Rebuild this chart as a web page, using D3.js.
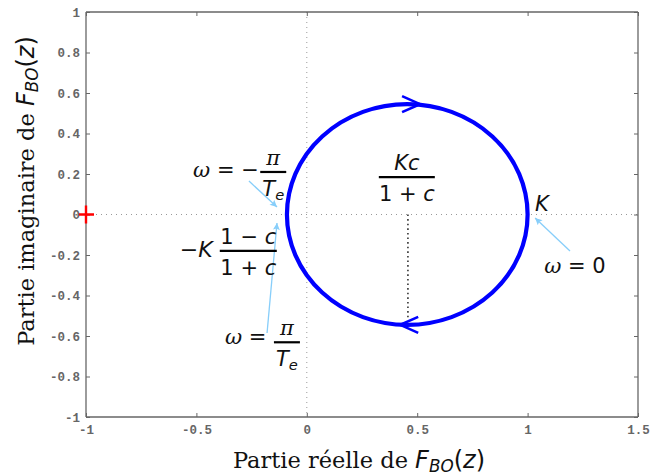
<!DOCTYPE html>
<html><head><meta charset="utf-8">
<script src="https://cdn.jsdelivr.net/npm/d3@7"></script>
<style>body{margin:0;background:#fff}</style>
</head><body>
<svg id="c" width="651" height="475"></svg>
<script>
// ---- data ----
const xDomain = [-1, 1.5];
const yDomain = [-1, 1];
const xTicks = [-1, -0.5, 0, 0.5, 1, 1.5];
const xTickLabels = ["-1", "-0.5", "0", "0.5", "1", "1.5"];
const yTicks = [-1, -0.8, -0.6, -0.4, -0.2, 0, 0.2, 0.4, 0.6, 0.8, 1];
const yTickLabels = ["-1", "-0.8", "-0.6", "-0.4", "-0.2", "0", "0.2", "0.4", "0.6", "0.8", "1"];
const circleCenter = [0.455, 0];
const circleRadius = 0.545;
const directionArrows = [{x: 0.513, y: 0.545, dir: 1}, {x: 0.423, y: -0.545, dir: -1}];
const centerDrop = [[0.458, 0], [0.458, -0.52]];
const criticalPoint = [-1, 0];
const annotationArrows = [
  {from: [-0.262, 0.165], to: [-0.135, 0.037]},
  {from: [-0.180, -0.585], to: [-0.135, -0.042]},
  {from: [1.192, -0.180], to: [1.034, -0.017]}
];

// ---- layout ----
const svg = d3.select("#c");
const L = 86, R = 638, T = 12, B = 417;
const x = d3.scaleLinear().domain(xDomain).range([L, R]);
const y = d3.scaleLinear().domain(yDomain).range([B, T]);

const defs = svg.append("defs");
defs.append("marker").attr("id", "ah").attr("viewBox", "0 0 10 10")
  .attr("refX", 10).attr("refY", 5).attr("markerWidth", 11).attr("markerHeight", 7)
  .attr("markerUnits", "userSpaceOnUse").attr("orient", "auto")
  .append("path").attr("d", "M0,0 L10,5 L0,10 L2,5 Z").attr("fill", "#87cefa");

// grid lines at 0
svg.append("line").attr("x1", x(0)).attr("x2", x(0)).attr("y1", T).attr("y2", B)
  .attr("stroke", "#999").attr("stroke-width", 1).attr("stroke-dasharray", "1,4");
svg.append("line").attr("x1", L).attr("x2", R).attr("y1", y(0)).attr("y2", y(0))
  .attr("stroke", "#999").attr("stroke-width", 1).attr("stroke-dasharray", "1,4");

// axes box & ticks
const tickLen = 4;
const axB = svg.append("g").attr("transform", `translate(0,${B})`)
  .call(d3.axisBottom(x).tickValues(xTicks).tickSize(-tickLen).tickPadding(8).tickFormat((d, i) => xTickLabels[i]));
const axT = svg.append("g").attr("transform", `translate(0,${T})`)
  .call(d3.axisTop(x).tickValues(xTicks).tickSize(-tickLen).tickFormat(""));
const axL = svg.append("g").attr("transform", `translate(${L},0)`)
  .call(d3.axisLeft(y).tickValues(yTicks).tickSize(-tickLen).tickPadding(6).tickFormat((d, i) => yTickLabels[i]));
const axR = svg.append("g").attr("transform", `translate(${R},0)`)
  .call(d3.axisRight(y).tickValues(yTicks).tickSize(-tickLen).tickFormat(""));
[axB, axT, axL, axR].forEach(a => {
  a.select(".domain").attr("stroke", "#666").attr("stroke-width", 1.3);
  a.selectAll(".tick line").attr("stroke", "#666");
  a.selectAll(".tick text").attr("font-family", "Liberation Mono, monospace")
    .attr("font-size", 12.5).attr("font-weight", "bold").attr("fill", "#666");
});
axB.selectAll(".domain").attr("d", `M${L},0H${R}`);
axT.selectAll(".domain").attr("d", `M${L},0H${R}`);
axL.selectAll(".domain").attr("d", `M0,${T}V${B}`);
axR.selectAll(".domain").attr("d", `M0,${T}V${B}`);

// circle
svg.append("ellipse")
  .attr("cx", x(circleCenter[0])).attr("cy", y(circleCenter[1]))
  .attr("rx", x(circleCenter[0] + circleRadius) - x(circleCenter[0]))
  .attr("ry", y(circleCenter[1]) - y(circleCenter[1] + circleRadius))
  .attr("fill", "none").attr("stroke", "#0000ff").attr("stroke-width", 4.2);

// direction chevrons
svg.selectAll(".chev").data(directionArrows).enter().append("path")
  .attr("d", d => {
    const tx = x(d.x), ty = y(d.y);
    const bx = tx - d.dir * 18;
    return `M${bx},${ty - 8}L${tx},${ty}L${bx},${ty + 8}`;
  })
  .attr("fill", "none").attr("stroke", "#0000ff").attr("stroke-width", 2.6);

// vertical dotted from center
svg.append("line")
  .attr("x1", x(centerDrop[0][0])).attr("y1", y(centerDrop[0][1]))
  .attr("x2", x(centerDrop[1][0])).attr("y2", y(centerDrop[1][1]))
  .attr("stroke", "#333").attr("stroke-width", 1.6).attr("stroke-dasharray", "1.6,3");

// critical point
const cpx = x(criticalPoint[0]), cpy = y(criticalPoint[1]);
svg.append("path").attr("d", `M${cpx - 7},${cpy}H${cpx + 8}M${cpx},${cpy - 9}V${cpy + 9}`)
  .attr("stroke", "#ff0000").attr("stroke-width", 2.4);

// annotation arrows
svg.selectAll(".ann").data(annotationArrows).enter().append("line")
  .attr("x1", d => x(d.from[0])).attr("y1", d => y(d.from[1]))
  .attr("x2", d => x(d.to[0])).attr("y2", d => y(d.to[1]))
  .attr("stroke", "#87cefa").attr("stroke-width", 1.3).attr("marker-end", "url(#ah)");

// ---- math text helpers ----
const FS = 21;
const SANS = "DejaVu Sans, sans-serif";
const SERIF = "DejaVu Serif, serif";
function styled(t, p, fs) {
  const s = t.append("tspan").text(p.t);
  const f = p.f || "i";
  if (f === "i") s.attr("font-family", SANS).attr("font-style", "italic");
  else if (f === "r") s.attr("font-family", SANS);
  else if (f === "s") s.attr("font-family", SERIF).attr("font-style", "italic");
  else if (f === "sr") s.attr("font-family", SERIF);
  if (p.sub) s.attr("font-size", (fs || FS) * 0.7).attr("baseline-shift", "-25%");
  if (p.dx) s.attr("dx", p.dx);
  return s;
}
function mathText(px, py, parts, anchor, size) {
  const t = svg.append("text").attr("x", px).attr("y", py)
    .attr("text-anchor", anchor || "start").attr("font-size", size || FS).attr("fill", "#111");
  parts.forEach(p => styled(t, p));
  return t;
}
function frac(cx, by, num, den, w) {
  svg.append("line").attr("x1", cx - w / 2).attr("x2", cx + w / 2).attr("y1", by).attr("y2", by)
    .attr("stroke", "#000").attr("stroke-width", 2.2);
  mathText(cx, by - 7, num, "middle");
  mathText(cx, by + 24, den, "middle");
}

// Kc/(1+c)
frac(x(0.453), y(0.185), [{t: "Kc"}], [{t: "1", f: "r"}, {t: " + ", f: "r"}, {t: "c"}], 56);
// K
mathText(x(1.034), y(0.017), [{t: "K"}]);
// ω = 0
mathText(x(1.075), y(-0.289), [{t: "ω", f: "s"}, {t: " = 0", f: "r"}]);
// ω = −π/Te
mathText(x(-0.515), y(0.185), [{t: "ω", f: "s"}, {t: " = −", f: "r"}]);
frac(x(-0.152), y(0.21), [{t: "π", f: "s"}], [{t: "T"}, {t: "e", sub: true}], 26);
// −K (1−c)/(1+c)
mathText(x(-0.575), y(-0.21), [{t: "−", f: "r"}, {t: "K"}], "start", 22);
frac(x(-0.265), y(-0.18), [{t: "1", f: "r"}, {t: " − ", f: "r"}, {t: "c"}], [{t: "1", f: "r"}, {t: " + ", f: "r"}, {t: "c"}], 57);
// ω = π/Te
mathText(x(-0.371), y(-0.64), [{t: "ω", f: "s"}, {t: " =", f: "r"}]);
frac(x(-0.09), y(-0.631), [{t: "π", f: "s"}], [{t: "T"}, {t: "e", sub: true}], 26);

// axis labels
const LFS = 24;
function axisLabel(t, words) {
  styled(t, {t: words, f: "sr"}).attr("font-size", 22.5);
  styled(t, {t: "F"}, LFS);
  styled(t, {t: "BO", sub: true}, LFS);
  styled(t, {t: "(", f: "r"}).attr("baseline-shift", "0");
  styled(t, {t: "z"});
  styled(t, {t: ")", f: "r"});
}
const xl = svg.append("text").attr("x", 359).attr("y", 468).attr("text-anchor", "middle")
  .attr("font-size", LFS).attr("fill", "#111");
axisLabel(xl, "Partie réelle de ");

const yl = svg.append("text").attr("transform", "translate(34,191) rotate(-90)").attr("text-anchor", "middle")
  .attr("font-size", LFS).attr("fill", "#111");
axisLabel(yl, "Partie imaginaire de ");
</script>
</body></html>
